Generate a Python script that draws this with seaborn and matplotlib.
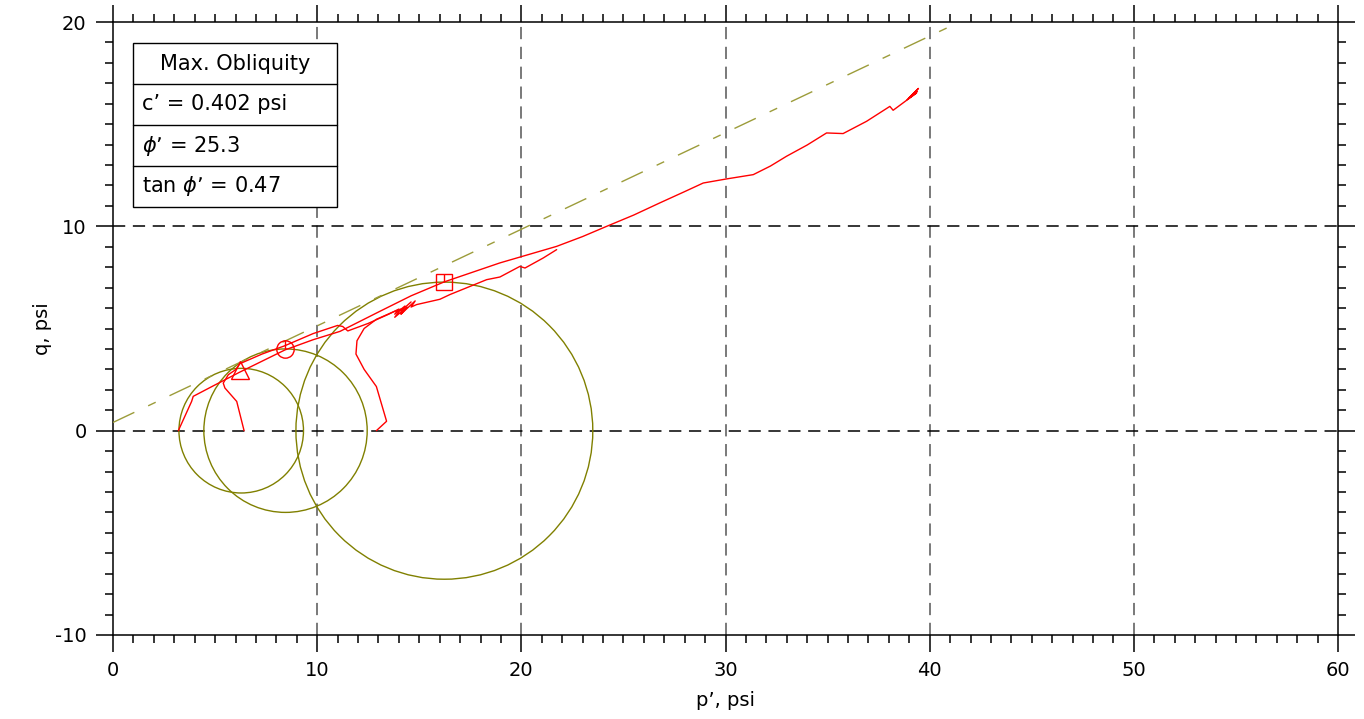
import numpy as np
import pandas as pd
import matplotlib
matplotlib.use("Agg")
import matplotlib.pyplot as plt
import seaborn as sns
from matplotlib.patches import Circle, Rectangle
from matplotlib.path import Path
from matplotlib.ticker import MultipleLocator

# ---------------- data ----------------
circle_center_p = [6.28, 8.45, 16.23]
circle_radius = [3.05, 4.00, 7.27]

peak_p = [6.22, 8.42, 16.22]
peak_q = [2.97, 4.01, 7.28]
peak_markers = ["^", "o", "s"]

c_eff = 0.402          # psi
phi_deg = 25.3
tan_phi = 0.47
env_p = [0.0, 42.5]

path1_p = [6.42, 6.06, 5.48, 5.40, 5.65, 6.00, 6.22, 7.3, 8.40, 9.8, 11.00, 11.25,
           11.50, 12.50, 13.50, 14.00, 13.8, 14.3, 14.1, 14.6]
path1_q = [0.00, 1.43, 2.09, 2.33, 2.74, 2.98, 3.28, 3.75, 4.15, 4.75, 5.15, 5.10,
           4.88, 5.25, 5.70, 5.95, 5.7, 6.1, 5.85, 6.3]

path2_p = [3.20, 3.85, 3.93, 5.00, 6.20, 7.30, 8.42, 9.80, 11.12, 13.07, 14.60, 16.22,
           18.95, 21.73, 23.00, 24.18, 25.50, 26.79, 28.00, 28.91, 30.05, 31.36, 32.20,
           32.99, 34.00, 34.95, 35.76, 36.91, 38.05, 38.21, 39.36, 38.90, 39.45, 39.00,
           39.40]
path2_q = [0.00, 1.43, 1.68, 2.24, 2.86, 3.40, 3.95, 4.45, 4.86, 5.84, 6.60, 7.28,
           8.21, 9.02, 9.50, 10.00, 10.55, 11.15, 11.70, 12.12, 12.32, 12.53, 12.95,
           13.43, 13.98, 14.57, 14.54, 15.14, 15.87, 15.68, 16.53, 16.20, 16.75, 16.30,
           16.60]

path3_p = [12.90, 13.40, 12.90, 12.30, 11.90, 11.95, 12.30, 12.90, 13.70, 14.10, 13.80,
           14.40, 14.10, 14.80, 14.60, 14.87, 16.01, 16.50, 18.30, 18.95, 19.93, 20.18,
           21.07, 21.73]
path3_q = [0.00, 0.46, 2.16, 3.00, 3.75, 4.40, 5.00, 5.45, 5.80, 5.95, 5.55,
           6.05, 5.70, 6.35, 6.05, 6.17, 6.43, 6.66, 7.39, 7.52, 8.04, 7.96,
           8.45, 8.86]

legend_title = "Max. Obliquity"
legend_rows = ["c\u2019 = 0.402 psi", r"$\phi$" + "\u2019 = 25.3", r"tan $\phi$" + "\u2019 = 0.47"]

x_label = "p\u2019, psi"
y_label = "q, psi"

# ---------------- style ----------------
sns.set_theme(style="white")
plt.rcParams["font.family"] = ["DejaVu Sans"]
plt.rcParams["mathtext.fontset"] = "dejavusans"
plt.rcParams["axes.unicode_minus"] = False
plt.rcParams["text.color"] = "black"
plt.rcParams["axes.labelcolor"] = "black"
plt.rcParams["xtick.color"] = "black"
plt.rcParams["ytick.color"] = "black"

RED = "#ff0000"
OLIVE = "#808000"
ENV = "#9c9c3a"

fig = plt.figure(figsize=(13.64, 7.19), dpi=100)
ax = fig.add_axes([113 / 1364, 84 / 719, 1225 / 1364, 613 / 719])
ax.set_xlim(0, 60)
ax.set_ylim(-10, 20)

# grid lines
for gx in [10, 20, 30, 40, 50]:
    ax.axvline(gx, color="#555555", lw=1.1, linestyle=(0, (8, 5)), zorder=1)
for gy in [0, 10]:
    ax.axhline(gy, color="black", lw=1.1, linestyle=(0, (8, 5)), zorder=1)

# Mohr circles
for cp, r in zip(circle_center_p, circle_radius):
    ax.add_patch(Circle((cp, 0), r, fill=False, edgecolor=OLIVE, lw=1.0, zorder=2))

# failure envelope
env_df = pd.DataFrame({"p": env_p,
                       "q": [c_eff + p * np.tan(np.radians(phi_deg)) for p in env_p]})
sns.lineplot(data=env_df, x="p", y="q", ax=ax, color=ENV, lw=1.0,
             dashes=False, sort=False, estimator=None, zorder=3)
ax.lines[-1].set_linestyle((0, (17, 11, 6, 11)))

# stress paths
paths = pd.concat([
    pd.DataFrame({"p": path1_p, "q": path1_q, "test": "1"}),
    pd.DataFrame({"p": path2_p, "q": path2_q, "test": "2"}),
    pd.DataFrame({"p": path3_p, "q": path3_q, "test": "3"}),
], ignore_index=True)
sns.lineplot(data=paths, x="p", y="q", units="test", estimator=None, sort=False,
             color=RED, lw=1.0, ax=ax, zorder=4, legend=False)

# peak markers
half_tick = Path([(0, 0), (0, 1)], [Path.MOVETO, Path.LINETO])
for px_, qy_, m in zip(peak_p, peak_q, peak_markers):
    ms = 12.5 if m != "s" else 12
    ax.plot([px_], [qy_], marker=m, ms=ms, mfc="none", mec=RED, mew=1.0,
            ls="none", zorder=5)
    if m != "^":
        ax.plot([px_], [qy_], marker=half_tick, ms=ms, mec=RED, mew=1.0,
                ls="none", zorder=5)

# ticks & spines
ax.xaxis.set_major_locator(MultipleLocator(10))
ax.xaxis.set_minor_locator(MultipleLocator(1))
ax.yaxis.set_major_locator(MultipleLocator(10))
ax.yaxis.set_minor_locator(MultipleLocator(1))
ax.tick_params(which="both", direction="out", top=True, right=True, bottom=True,
               left=True, labeltop=False, labelright=False, color="black", width=1.1)
ax.tick_params(which="major", length=12, pad=7, labelsize=14)
ax.tick_params(which="minor", length=6)
for s in ax.spines.values():
    s.set_color("black")
    s.set_linewidth(1.1)

ax.set_xlabel(x_label, fontsize=14, labelpad=8)
ax.set_ylabel(y_label, fontsize=14, labelpad=2)

# legend box (table)
x0, x1 = 20 / 1225, 224 / 1225
row_px = [43, 84, 125, 166, 207]
row_y = [(635 - r) / 613 for r in row_px]
ax.add_patch(Rectangle((x0, row_y[-1]), x1 - x0, row_y[0] - row_y[-1],
                       transform=ax.transAxes, facecolor="white", edgecolor="black",
                       lw=1.0, zorder=10))
for ry in row_y[1:-1]:
    ax.plot([x0, x1], [ry, ry], transform=ax.transAxes, color="black", lw=1.0, zorder=11)
ax.text((x0 + x1) / 2, (row_y[0] + row_y[1]) / 2, legend_title, transform=ax.transAxes,
        ha="center", va="center", fontsize=15, zorder=12)
for i, t in enumerate(legend_rows):
    ax.text(29 / 1225, (row_y[i + 1] + row_y[i + 2]) / 2, t, transform=ax.transAxes,
            ha="left", va="center", fontsize=15, zorder=12)

fig.savefig("out.png", dpi=100)
